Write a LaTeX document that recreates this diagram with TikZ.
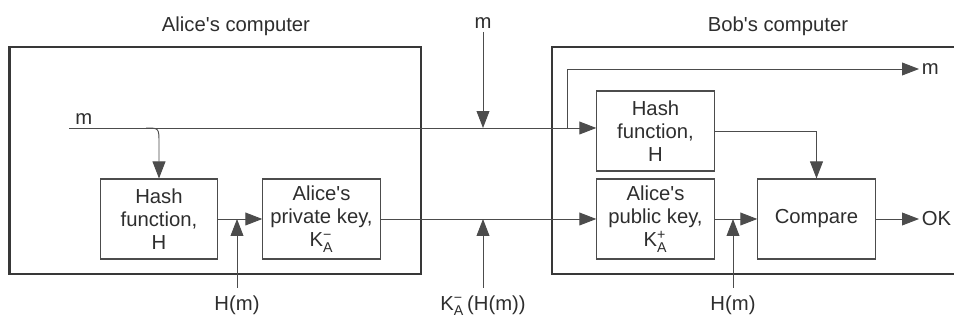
\documentclass[tikz,border=0pt]{standalone}
\usepackage{amsmath}
\usepackage{fontspec}
\setmainfont{Liberation Sans}[Ligatures=TeXOff]
\usetikzlibrary{arrows.meta,positioning}

\newcommand{\KeyA}[1]{K$^{\text{#1}}_{\text{A}}$}

\begin{document}
\begin{tikzpicture}[x=0.03cm,y=-0.03cm,>={Triangle[length=14.5pt,width=11pt]},
  every node/.style={font=\fontsize{17.3}{19.6}\selectfont,text=black!82},
  line width=.8pt,draw=black!70,
  blk/.style={draw=black!70,line width=.9pt,minimum width=3.52cm,minimum height=2.4cm,align=center,inner sep=0pt},
  frame/.style={draw=black!78,line width=2.3pt},
  lbl/.style={inner sep=1pt}]
\clip (0,0) rectangle (954,320);
\fill[white] (0,0) rectangle (954,320);
% the two computers
\draw[frame] (9.5,47) rectangle (421,274);
\draw[frame] (965,47)--(552,47)--(552,274)--(965,274);
\node (alice) at (236,26) {Alice's computer};
\node (bob) at (778,26) {Bob's computer};
% blocks
\node[blk] (hashA) at (159,219) {Hash\\function,\\H};
\node[blk] (privA) at (321.5,219) {Alice's\\private key,\\\KeyA{−}};
\node[blk] (hashB) at (655.5,131) {Hash\\function,\\H};
\node[blk] (pubB) at (655.5,219) {Alice's\\public key,\\\KeyA{+}};
\node[blk] (cmp) at (816.5,219) {Compare};
% free ends
\coordinate (mIn) at (69,128);
\coordinate (brA) at (146,128);
\coordinate (mTop) at (483,32);
\coordinate (brB) at (567,128);
\coordinate (mOut) at (919,69);
\coordinate (okOut) at (919,219);
\coordinate (hmA) at (237,288);
\coordinate (sig) at (483,288);
\coordinate (hmB) at (733,288);
% labels
\node[lbl,above right=2pt and 4pt of mIn] (mInLab) {m};
\node[lbl,above=2pt of mTop] (mTopLab) {m};
\node[lbl,right=1pt of mOut] (mOutLab) {m};
\node[lbl,right=1pt of okOut] (okLab) {OK};
\node[lbl,below=5pt of hmA] (hmALab) {H(m)};
\node[lbl,below=5pt of sig] (sigLab) {\KeyA{−}\,(H(m))};
\node[lbl,below=5pt of hmB] (hmBLab) {H(m)};
% Alice side
\draw[->] (mIn)--(mIn -| hashB.west);
\draw[->] (brA) .. controls (hashA.north |- brA) .. ([yshift=1.05cm]hashA.north)--(hashA.north);
\draw[->] (hashA)--(privA);
\draw[->] (hmA)--(hmA |- hashA.east);
% channel
\draw[->] (privA)--(pubB);
\draw[->] (mTop)--(mTop |- mIn);
\draw[->] (sig)--(sig |- privA.east);
% Bob side
\draw[->] (brB) |- (mOut);
\draw[->] (hashB.east) -| (cmp.north);
\draw[->] (pubB)--(cmp);
\draw[->] (hmB)--(hmB |- pubB.east);
\draw[->] (cmp)--(okOut);

\end{tikzpicture}
\end{document}
